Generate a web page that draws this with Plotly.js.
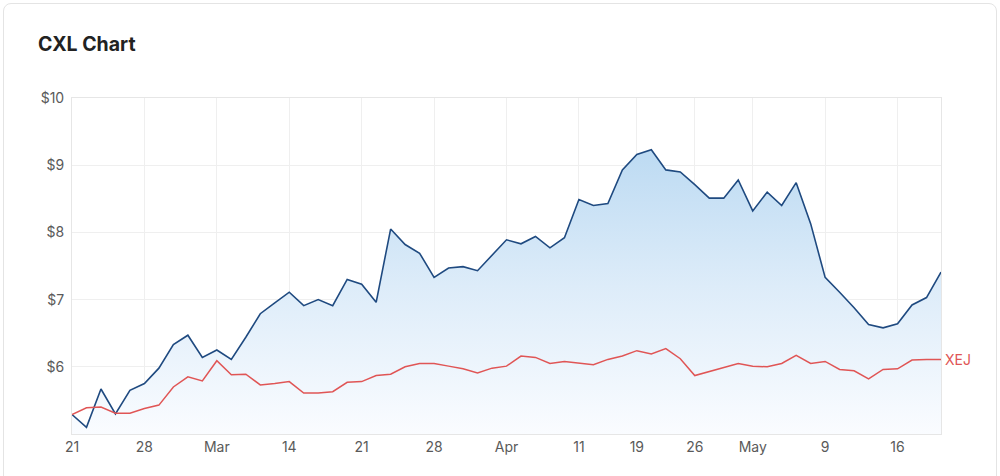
<!DOCTYPE html>
<html>
<head>
<meta charset="utf-8">
<script src="https://cdn.plot.ly/plotly-3.0.1.min.js"></script>
<style>
  html, body { margin: 0; padding: 0; background: #fff; overflow: hidden; }
  #wrap { position: relative; width: 1000px; height: 476px; }
  #card { position: absolute; left: 3px; top: 3px; width: 994px; height: 520px;
          border: 1px solid #e4e4e4; border-radius: 8px; box-sizing: border-box; pointer-events: none; }
  #chart { position: absolute; left: 0; top: 0; width: 1000px; height: 476px; }
</style>
</head>
<body>
<div id="wrap">
  <div id="chart"></div>
  <div id="card"></div>
</div>
<script>
const dates = [
  "2022-02-21","2022-02-22","2022-02-23","2022-02-24","2022-02-25",
  "2022-02-28","2022-03-01","2022-03-02","2022-03-03","2022-03-04",
  "2022-03-07","2022-03-08","2022-03-09","2022-03-10","2022-03-11",
  "2022-03-14","2022-03-15","2022-03-16","2022-03-17","2022-03-18",
  "2022-03-21","2022-03-22","2022-03-23","2022-03-24","2022-03-25",
  "2022-03-28","2022-03-29","2022-03-30","2022-03-31","2022-04-01",
  "2022-04-04","2022-04-05","2022-04-06","2022-04-07","2022-04-08",
  "2022-04-11","2022-04-12","2022-04-13","2022-04-14",
  "2022-04-19","2022-04-20","2022-04-21","2022-04-22",
  "2022-04-26","2022-04-27","2022-04-28","2022-04-29",
  "2022-05-02","2022-05-03","2022-05-04","2022-05-05","2022-05-06",
  "2022-05-09","2022-05-10","2022-05-11","2022-05-12","2022-05-13",
  "2022-05-16","2022-05-17","2022-05-18","2022-05-19"
];

const cxl = [
  5.29, 5.10, 5.67, 5.30, 5.65, 5.75, 5.98, 6.33, 6.47, 6.14,
  6.25, 6.11, 6.44, 6.79, 6.95, 7.11, 6.91, 7.00, 6.91, 7.30,
  7.23, 6.96, 8.05, 7.82, 7.69, 7.33, 7.47, 7.49, 7.43, 7.66,
  7.89, 7.83, 7.94, 7.77, 7.92, 8.49, 8.40, 8.43, 8.93, 9.16,
  9.23, 8.93, 8.90, 8.71, 8.51, 8.51, 8.78, 8.32, 8.60, 8.40,
  8.74, 8.13, 7.33, 7.11, 6.88, 6.63, 6.58, 6.64, 6.92, 7.03,
  7.41
];

const xej = [
  5.29, 5.39, 5.40, 5.31, 5.31, 5.38, 5.43, 5.70, 5.85, 5.79,
  6.09, 5.88, 5.89, 5.73, 5.75, 5.78, 5.61, 5.61, 5.63, 5.77,
  5.78, 5.87, 5.89, 6.00, 6.05, 6.05, 6.01, 5.97, 5.91, 5.98,
  6.01, 6.16, 6.14, 6.05, 6.08, 6.06, 6.03, 6.11, 6.16, 6.24,
  6.19, 6.27, 6.12, 5.87, 5.93, 5.99, 6.05, 6.01, 6.00, 6.05,
  6.17, 6.05, 6.08, 5.96, 5.94, 5.82, 5.96, 5.97, 6.10, 6.11,
  6.11
];

const tickDates = ["2022-02-21","2022-02-28","2022-03-07","2022-03-14","2022-03-21","2022-03-28",
                   "2022-04-04","2022-04-11","2022-04-19","2022-04-26","2022-05-02","2022-05-09","2022-05-16"];
const tickLabels = ["21","28","Mar","14","21","28","Apr","11","19","26","May","9","16"];
const yTicks = [6, 7, 8, 9, 10];
const yLabels = ["$6", "$7", "$8", "$9", "$10"];

const traces = [
  {
    x: dates, y: cxl, name: "CXL", type: "scatter", mode: "lines",
    line: { color: "#1f4a80", width: 1.6 },
    fill: "tozeroy",
    fillgradient: {
      type: "vertical", start: 5, stop: 9.4,
      colorscale: [[0, "rgba(250,252,255,1)"], [0.5, "rgb(221,236,249)"], [1, "rgb(186,217,242)"]]
    },
    hoverinfo: "skip"
  },
  {
    x: dates, y: xej, name: "XEJ", type: "scatter", mode: "lines",
    line: { color: "#e05555", width: 1.5 },
    hoverinfo: "skip"
  }
];

const layout = {
  width: 1000, height: 476,
  margin: { l: 72, r: 59, t: 98, b: 42 },
  paper_bgcolor: "rgba(0,0,0,0)",
  plot_bgcolor: "#ffffff",
  showlegend: false,
  font: { family: "Inter, Roboto, sans-serif", color: "#5a5a5a", size: 14 },
  title: {
    text: "<b>CXL Chart</b>",
    font: { family: "Inter, Roboto, sans-serif", size: 19.5, color: "#222" },
    x: 0.038, xref: "container", xanchor: "left",
    y: 1 - 44 / 476, yref: "container", yanchor: "middle"
  },
  xaxis: {
    type: "category",
    categoryorder: "array", categoryarray: dates,
    range: [0, dates.length - 1],
    tickmode: "array", tickvals: tickDates, ticktext: tickLabels,
    showgrid: true, gridcolor: "#efefef", gridwidth: 1,
    showline: true, linecolor: "#e6e6e6", linewidth: 1, mirror: true,
    ticks: "", ticklabelstandoff: 0,
    tickfont: { size: 14, color: "#5a5a5a" },
    zeroline: false, fixedrange: true
  },
  yaxis: {
    range: [5, 10],
    tickmode: "array", tickvals: yTicks, ticktext: yLabels,
    showgrid: true, gridcolor: "#efefef", gridwidth: 1,
    showline: true, linecolor: "#e6e6e6", linewidth: 1, mirror: true,
    ticks: "", ticklabelstandoff: 4,
    tickfont: { size: 14, color: "#5a5a5a" },
    zeroline: false, fixedrange: true
  },
  annotations: [
    {
      x: dates[dates.length - 1], y: xej[xej.length - 1],
      xref: "x", yref: "y", text: "XEJ", showarrow: false,
      xanchor: "left", yanchor: "middle", xshift: 2,
      font: { size: 14, color: "#e05555" }
    }
  ]
};

Plotly.newPlot("chart", traces, layout, { staticPlot: true, displayModeBar: false });
</script>
</body>
</html>
